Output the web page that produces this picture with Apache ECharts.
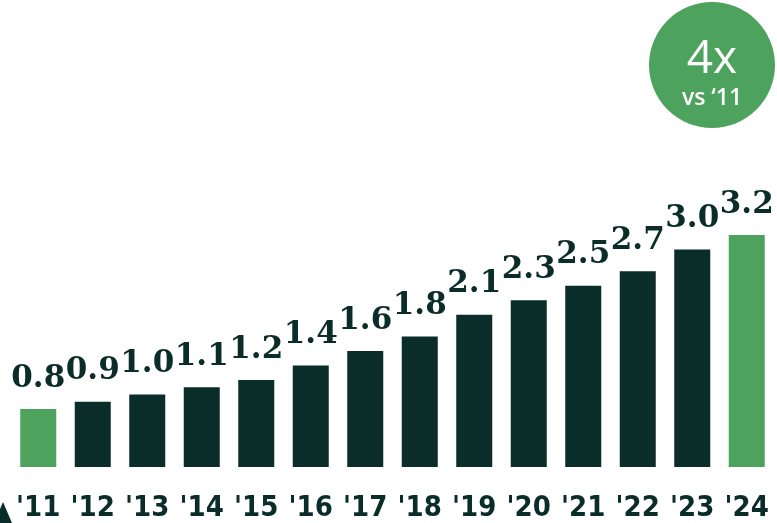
<!DOCTYPE html>
<html>
<head>
<meta charset="utf-8">
<script src="https://cdn.jsdelivr.net/npm/echarts@6/dist/echarts.min.js"></script>
<style>
  html, body { margin: 0; padding: 0; background: #fff; }
  #main { width: 777px; height: 523px; }
</style>
</head>
<body>
<div id="main"></div>
<script>
// years and values
var years = ["'11", "'12", "'13", "'14", "'15", "'16", "'17", "'18", "'19", "'20", "'21", "'22", "'23", "'24"];
var values = [0.8, 0.9, 1.0, 1.1, 1.2, 1.4, 1.6, 1.8, 2.1, 2.3, 2.5, 2.7, 3.0, 3.2];
var highlighted = ["'11", "'24"];

var GREEN = '#4da35d';
var DARK = '#0b2d2a';

var myChart = echarts.init(document.getElementById('main'));

myChart.setOption({
    animation: false,
    grid: { left: 11, right: 3, top: 235, bottom: 56 },
    xAxis: {
        type: 'category',
        data: years,
        axisLine: { show: false },
        axisTick: { show: false },
        axisLabel: {
            interval: 0,
            hideOverlap: false,
            margin: 27,
            color: DARK,
            fontFamily: '"DejaVu Sans Condensed", sans-serif',
            fontWeight: 'bold',
            fontSize: 29
        }
    },
    yAxis: {
        type: 'value',
        min: 0,
        max: 3.2,
        show: false,
        splitLine: { show: false }
    },
    series: [{
        type: 'bar',
        barWidth: 36,
        data: values.map(function (v, i) {
            return {
                value: v,
                itemStyle: { color: highlighted.indexOf(years[i]) >= 0 ? GREEN : DARK }
            };
        }),
        label: {
            show: true,
            position: 'top',
            distance: 15,
            color: DARK,
            fontFamily: '"DejaVu Serif", serif',
            fontWeight: 'bold',
            fontSize: 31,
            formatter: function (p) { return p.value.toFixed(1); }
        },
        labelLayout: { hideOverlap: false }
    }],
    graphic: [
        {
            type: 'circle',
            shape: { cx: 712, cy: 65, r: 63 },
            style: { fill: GREEN }
        },
        {
            type: 'text',
            x: 712, y: 60,
            style: {
                text: '4x', fill: '#fff', fontFamily: 'Open Sans', fontSize: 46,
                fontWeight: 500, align: 'center', verticalAlign: 'middle'
            }
        },
        {
            type: 'text',
            x: 712, y: 98,
            style: {
                text: 'vs \u201811', fill: '#fff', fontFamily: 'Open Sans', fontSize: 23,
                fontWeight: 600, align: 'center', verticalAlign: 'middle'
            }
        },
        {
            type: 'polygon',
            shape: { points: [[3, 502], [12, 523], [-6, 523]] },
            style: { fill: DARK }
        }
    ]
});
</script>
</body>
</html>
